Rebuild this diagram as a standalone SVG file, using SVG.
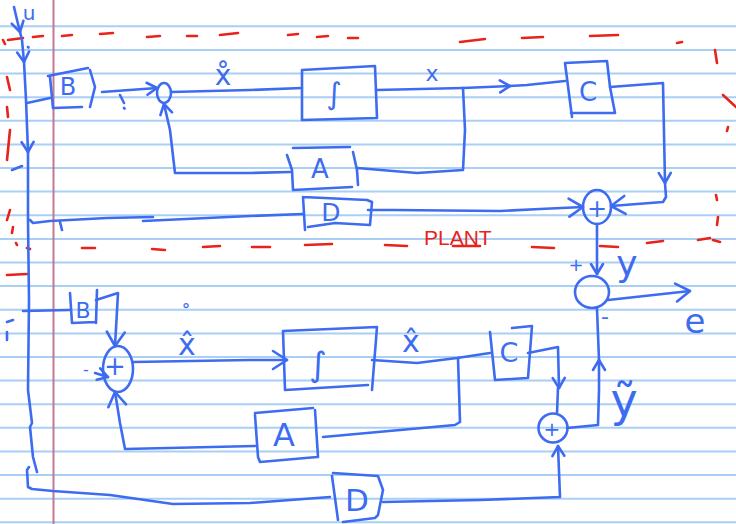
<svg xmlns="http://www.w3.org/2000/svg" width="736" height="524" viewBox="0 0 736 524">
<style>
.rule{stroke:#a9cff5;stroke-width:2}
.margin{stroke:#c07a92;stroke-width:2}
.ink{stroke:#3d6cf0;stroke-width:2.6;fill:none;stroke-linecap:round;stroke-linejoin:round}
.red{stroke:#e8231b;stroke-width:2.6;fill:none;stroke-linecap:round}
.lbl{fill:#3d6cf0;font-family:"DejaVu Sans",sans-serif;text-anchor:middle}
.plant{fill:#e8231b;font-family:"Liberation Sans",sans-serif;font-size:21px}
</style>
<defs>
<marker id="ah" viewBox="-12 -8 14 16" refX="0" refY="0" markerWidth="14" markerHeight="16" markerUnits="userSpaceOnUse" orient="auto"><path d="M-10,-6 L0,0 L-10,6" fill="none" stroke="#3d6cf0" stroke-width="2.6" stroke-linecap="round" stroke-linejoin="round"/></marker>
<marker id="ahL" viewBox="-16 -11 18 22" refX="0" refY="0" markerWidth="18" markerHeight="22" markerUnits="userSpaceOnUse" orient="auto"><path d="M-14,-9 L0,0 L-14,9" fill="none" stroke="#3d6cf0" stroke-width="2.6" stroke-linecap="round" stroke-linejoin="round"/></marker>
</defs>
<rect width="736" height="524" fill="#ffffff"/>
<g id="paper">
<path class="rule" d="M0,26.3H736M0,49.9H736M0,73.5H736M0,97.2H736M0,120.8H736M0,144.4H736M0,168H736M0,191.6H736M0,215.3H736M0,238.9H736M0,262.5H736M0,286.1H736M0,309.7H736M0,333.4H736M0,357H736M0,380.6H736M0,404.2H736M0,427.8H736M0,451.5H736M0,475.1H736M0,498.7H736M0,522.3H736"/>
<path class="margin" d="M53.5,0V524"/>
</g>
<g id="plant-border">
<path class="red" d="M3,40L5,44M8,40L23,38M33,37L43,36M62,36L72,35M100,34L113,33M147,37L160,36M187,36L197,36M220,35L238,33M288,35L298,34M317,37L328,36M348,38L358,38M460,42L485,39M522,38L543,37M590,36L618,35M677,43L682,42"/>
<path class="red" d="M715,50L717,63M723,95L736,107M728,127L727,131M716,195L717,200M718,217L717,225M713,240L720,242M698,240L710,238"/>
<path class="red" d="M647,243L663,241M600,246L618,247M532,247L554,248M453,246L480,246M385,245L407,246M305,245L332,244M252,247L270,247M203,247L220,246M152,249L165,250M82,248L95,248M27,248L30,249"/>
<path class="red" d="M7,77L10,90M7,107L8,117M10,130L7,160M10,210L7,220M13,227L12,233M16,243L17,245M7,275L27,274"/>
<text class="plant" x="424" y="245">PLANT</text>
</g>
<g id="connectors">
<path class="ink" d="M14,7Q17,20 20,32" marker-end="url(#ah)"/>
<path class="ink" d="M20,32L22,40L24,62" marker-end="url(#ah)"/>
<path class="ink" d="M24,62L26,100L28,152" marker-end="url(#ah)"/>
<path class="ink" d="M28,152L28,220L29,300L28,390L32,423L30,427L33,457L37,472"/>
<path class="ink" d="M27,103L50,98"/>
<path class="ink" d="M102,92L157,88" marker-end="url(#ah)"/>
<path class="ink" d="M171,92L250,90L302,88"/>
<path class="ink" d="M377,90L463,88L510,86" marker-end="url(#ah)"/>
<path class="ink" d="M510,86L527,85L565,81"/>
<path class="ink" d="M610,87L663,83L665,183" marker-end="url(#ah)"/>
<path class="ink" d="M665,183L666,197L663,202L611,206" marker-end="url(#ahL)"/>
<path class="ink" d="M30,220L33,223L50,221L107,218L153,217M143,221L250,216L303,214"/>
<path class="ink" d="M368,210L393,210L500,211L540,209L583,207" marker-end="url(#ahL)"/>
<path class="ink" d="M463,88L465,130L463,170L417,173L357,168"/>
<path class="ink" d="M290,172L250,173L175,173L170,130L164,104" marker-end="url(#ah)"/>
<path class="ink" d="M597,224L597,274" marker-end="url(#ah)"/>
<path class="ink" d="M608,300L690,291" marker-end="url(#ahL)"/>
<path class="ink" d="M23,311L70,310"/>
<path class="ink" d="M96,300L118,293L115,346" marker-end="url(#ahL)"/>
<path class="ink" d="M95,373L108,377" marker-end="url(#ah)"/>
<path class="ink" d="M133,362L250,360L287,360" marker-end="url(#ahL)"/>
<path class="ink" d="M372,360L417,363L457,358L490,353"/>
<path class="ink" d="M458,358L459,390L460,422L455,425L323,437"/>
<path class="ink" d="M255,446L125,449L120,423L115,392" marker-end="url(#ahL)"/>
<path class="ink" d="M528,353L558,347L559,388" marker-end="url(#ah)"/>
<path class="ink" d="M558,388L557,413"/>
<path class="ink" d="M567,428L598,425L599,390L599,360" marker-end="url(#ah)"/>
<path class="ink" d="M599,360L597,309"/>
<path class="ink" d="M383,502L480,500L560,497L558,446" marker-end="url(#ah)"/>
<path class="ink" d="M29,467L27,470L28,487L32,489L53,491L110,495L173,504L250,503L330,497"/>
</g>
<g id="marks">
<path class="ink" d="M12,170L22,166M7,322L13,320M7,332L7,340M120,95L124,103M124,108L124.5,108.5M60,222L62,230M28,47L28.5,47.5"/>
</g>
<g id="B1"><path class="ink" d="M48,76L88,68M50,77L53,108L82,107M90,70L95,87L90,107"/><text class="lbl" x="68" y="95" font-size="24">B</text></g>
<g id="sum1"><ellipse class="ink" cx="164" cy="93" rx="7" ry="10"/></g>
<g id="int1"><path class="ink" d="M302,70L375,66L377,118L302,120Z"/><text class="lbl" x="334" y="104" font-size="30">∫</text></g>
<g id="C1"><path class="ink" d="M565,63L607,61L610,87L615,113L571,113M565,63L572,117"/><text class="lbl" x="588" y="101" font-size="26">C</text></g>
<g id="A1"><path class="ink" d="M293,148L350,147M287,155L292,170L293,190L352,187M353,152L357,170L358,185"/><text class="lbl" x="320" y="178" font-size="26">A</text></g>
<g id="D1"><path class="ink" d="M303,197L367,200L372,202L370,225L335,223L308,227M303,197L305,230"/><text class="lbl" x="331" y="221" font-size="25">D</text></g>
<g id="sum2"><ellipse class="ink" cx="597" cy="207" rx="14" ry="17"/><text class="lbl" x="597" y="217" font-size="24">+</text></g>
<g id="sum5"><ellipse class="ink" cx="592" cy="292" rx="17" ry="16"/></g>
<g id="B2"><path class="ink" d="M70,293L72,323L95,322M97,290L96,323"/><text class="lbl" x="83" y="318" font-size="22">B</text></g>
<g id="sum3"><ellipse class="ink" cx="118" cy="369" rx="15" ry="23"/><text class="lbl" x="115" y="375" font-size="26">+</text></g>
<g id="int2"><path class="ink" d="M283,331L377,327L372,390M283,331L285,390L368,385"/><text class="lbl" x="318" y="376" font-size="34">∫</text></g>
<g id="C2"><path class="ink" d="M490,332L495,380L527,378M532,326L528,378M512,328L532,326"/><text class="lbl" x="509" y="362" font-size="27">C</text></g>
<g id="A2"><path class="ink" d="M255,413L313,408M255,415L258,457L260,462L317,457M315,410L318,457"/><text class="lbl" x="284" y="446" font-size="32">A</text></g>
<g id="D2"><path class="ink" d="M333,473L378,476L383,490L378,515L375,518L343,522M332,476L338,520"/><text class="lbl" x="357" y="511" font-size="31">D</text></g>
<g id="sum4"><circle class="ink" cx="553" cy="428" r="14.5"/><text class="lbl" x="552" y="436" font-size="20">+</text></g>
<g id="labels">
<text class="lbl" x="29" y="20" font-size="20">u</text>
<text class="lbl" x="223" y="85" font-size="28">x̊</text>
<text class="lbl" x="432" y="81" font-size="22">x</text>
<text class="lbl" x="576" y="271" font-size="18">+</text>
<text class="lbl" x="627" y="276" font-size="36">y</text>
<text class="lbl" x="695" y="333" font-size="34">e</text>
<text class="lbl" x="605" y="324" font-size="22">-</text>
<text class="lbl" x="86" y="375" font-size="16">-</text>
<text class="lbl" x="186" y="320" font-size="20">˚</text>
<text class="lbl" x="187" y="355" font-size="30">x̂</text>
<text class="lbl" x="411" y="352" font-size="30">x̂</text>
<text class="lbl" x="624" y="416" font-size="46">ỹ</text>
</g>
</svg>
